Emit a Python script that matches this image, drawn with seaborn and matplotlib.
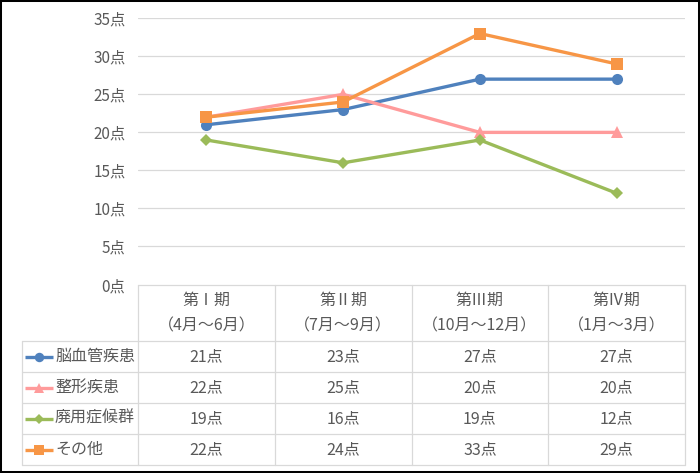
import matplotlib
matplotlib.use("Agg")
import matplotlib.pyplot as plt
import seaborn as sns
import pandas as pd
from matplotlib.patches import Rectangle

# ---- data ----
periods = ["第Ⅰ期", "第Ⅱ期", "第Ⅲ期", "第Ⅳ期"]
period_ranges = ["（4月～6月）", "（7月～9月）", "（10月～12月）", "（1月～3月）"]
series_names = ["脳血管疾患", "整形疾患", "廃用症候群", "その他"]
brain = [21, 23, 27, 27]
ortho = [22, 25, 20, 20]
disuse = [19, 16, 19, 12]
other = [22, 24, 33, 29]
yticks = [0, 5, 10, 15, 20, 25, 30, 35]

values = [brain, ortho, disuse, other]
colors = ["#4F81BD", "#FF9B9B", "#9BBB59", "#F79646"]
marker_map = ["o", "^", "D", "s"]
marker_sizes = [8, 8.5, 6.5, 8]

rows = []
for name, vals in zip(series_names, values):
    for i, (p, v) in enumerate(zip(periods, vals)):
        rows.append({"期": p, "idx": i, "系列": name, "点": v})
df = pd.DataFrame(rows)

sns.set_theme(style="white")
plt.rcParams["font.family"] = ["Noto Sans CJK JP", "DejaVu Sans"]
TXT = "#595959"
GRID = "#D9D9D9"
FS = 11.5

W, H = 700, 473
fig = plt.figure(figsize=(W / 100, H / 100), dpi=100)
fig.patch.set_facecolor("white")

def fx(px):
    return px / W

def fy(py):
    return 1 - py / H

L, R, T, B = 138, 685, 18.3, 284.5
ax = fig.add_axes([fx(L), fy(B), fx(R) - fx(L), fy(T) - fy(B)])

for i, name in enumerate(series_names):
    sub = df[df["系列"] == name]
    sns.lineplot(data=sub, x="idx", y="点", color=colors[i], marker=marker_map[i],
                 markersize=marker_sizes[i], markeredgewidth=0, linewidth=2.4,
                 ax=ax, legend=False, zorder=3 + i)

ax.set_xlim(-0.5, 3.5)
ax.set_ylim(0, 35)
ax.set_yticks(yticks)
ax.set_yticklabels([f"{t}点" for t in yticks], color=TXT, fontsize=11)
ax.set_xticks([])
ax.set_xlabel("")
ax.set_ylabel("")
ax.tick_params(axis="y", length=0, pad=9)
for s in ax.spines.values():
    s.set_visible(False)
for t in yticks[1:]:
    ax.axhline(t, color=GRID, lw=0.9, zorder=1)

# ---- data table ----
TL, TB = 22, 465
tax = fig.add_axes([fx(TL), fy(TB), fx(R) - fx(TL), fy(B) - fy(TB)])
tax.set_xlim(TL, R)
tax.set_ylim(TB, B)
tax.axis("off")

col_w = (R - L) / len(periods)
header_bottom = 341
row_h = (TB - header_bottom) / len(series_names)
lw = 0.9

# horizontal lines
tax.plot([L, R], [B, B], color=GRID, lw=lw, clip_on=False)
for k in range(len(series_names) + 1):
    y = header_bottom + k * row_h
    tax.plot([TL, R], [y, y], color=GRID, lw=lw, clip_on=False)
# vertical lines
for c in range(len(periods) + 1):
    x = L + c * col_w
    tax.plot([x, x], [B, TB], color=GRID, lw=lw, clip_on=False)
tax.plot([TL, TL], [header_bottom, TB], color=GRID, lw=lw, clip_on=False)

# headers
for c, (p, r) in enumerate(zip(periods, period_ranges)):
    cx = L + (c + 0.5) * col_w
    tax.text(cx, 300, p, ha="center", va="center", color=TXT, fontsize=FS)
    tax.text(cx, 326, r, ha="center", va="center", color=TXT, fontsize=FS)

# rows
for k, (name, vals) in enumerate(zip(series_names, values)):
    cy = header_bottom + (k + 0.5) * row_h
    tax.plot([25, 53], [cy, cy], color=colors[k], lw=2.4, solid_capstyle="butt")
    tax.plot([39], [cy], marker=marker_map[k], color=colors[k],
             markersize=marker_sizes[k] * 0.85, markeredgewidth=0)
    tax.text(55, cy, name, ha="left", va="center", color=TXT, fontsize=FS)
    for c, v in enumerate(vals):
        cx = L + (c + 0.5) * col_w
        tax.text(cx, cy, f"{v}点", ha="center", va="center", color=TXT, fontsize=FS)

# outer frame
fig.patches.append(Rectangle((0, 0), 1, 1, transform=fig.transFigure, fill=False,
                             edgecolor="black", linewidth=2.9))

fig.savefig("out.png", dpi=100)
